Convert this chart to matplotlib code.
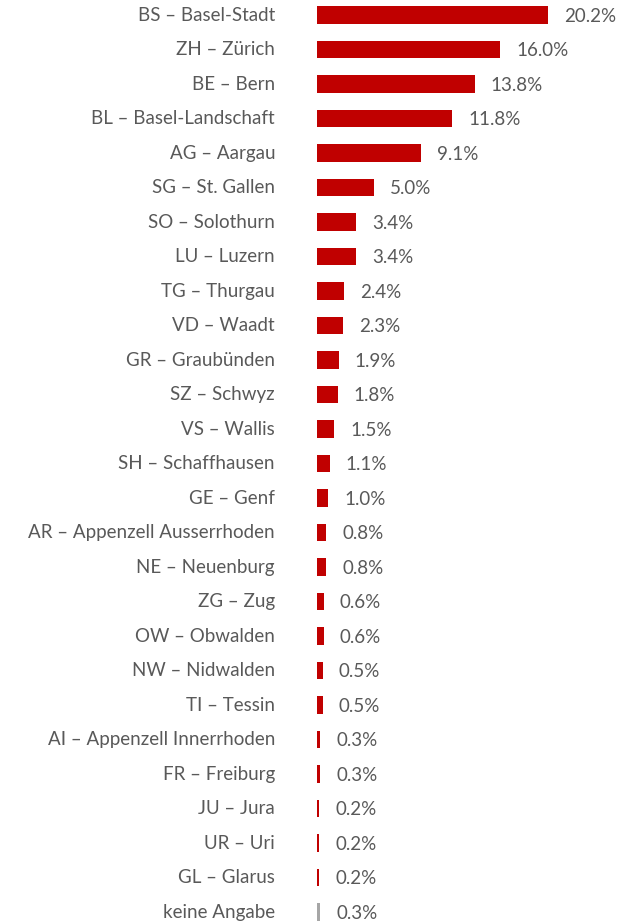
import matplotlib.pyplot as plt

#%% data
cantons = ['BS – Basel-Stadt', 'ZH – Zürich', 'BE – Bern', 'BL – Basel-Landschaft',
           'AG – Aargau', 'SG – St. Gallen', 'SO – Solothurn', 'LU – Luzern',
           'TG – Thurgau', 'VD – Waadt', 'GR – Graubünden', 'SZ – Schwyz',
           'VS – Wallis', 'SH – Schaffhausen', 'GE – Genf', 'AR – Appenzell Ausserrhoden',
           'NE – Neuenburg', 'ZG – Zug', 'OW – Obwalden', 'NW – Nidwalden',
           'TI – Tessin', 'AI – Appenzell Innerrhoden', 'FR – Freiburg', 'JU – Jura',
           'UR – Uri', 'GL – Glarus', 'keine Angabe']
shares = [20.2, 16.0, 13.8, 11.8, 9.1, 5.0, 3.4, 3.4, 2.4, 2.3, 1.9, 1.8, 1.5, 1.1,
          1.0, 0.8, 0.8, 0.6, 0.6, 0.5, 0.5, 0.3, 0.3, 0.2, 0.2, 0.2, 0.3]

#%% plot
plt.rcParams['font.family'] = ['Lato', 'DejaVu Sans']
W, H = 622, 922
fig = plt.figure(figsize=(W/100, H/100), dpi=100)

px_per_unit = 11.44
row = 34.5
top = 15 - row/2
x0 = 317
ax = fig.add_axes([x0/W, 1 - (top + row*len(cantons))/H, 303/W, row*len(cantons)/H])
ax.set_xlim(0, 303/px_per_unit)
ax.set_ylim(len(cantons) - 0.5, -0.5)

colors = ['#C00000']*(len(cantons)-1) + ['#A6A6A6']
ypos = list(range(len(cantons)))
ax.barh(ypos, shares, height=0.52, color=colors)

for y, v, lab in zip(ypos, shares, cantons):
    ax.text(v + 16/px_per_unit, y + 0.04, f'{v:.1f}%', va='center', ha='left',
            fontsize=13.5, color='#595959', clip_on=False)
    ax.text(-42/px_per_unit, y, lab, va='center', ha='right',
            fontsize=13.5, color='#595959', clip_on=False)

ax.axis('off')
fig.savefig('out.png', dpi=100)
